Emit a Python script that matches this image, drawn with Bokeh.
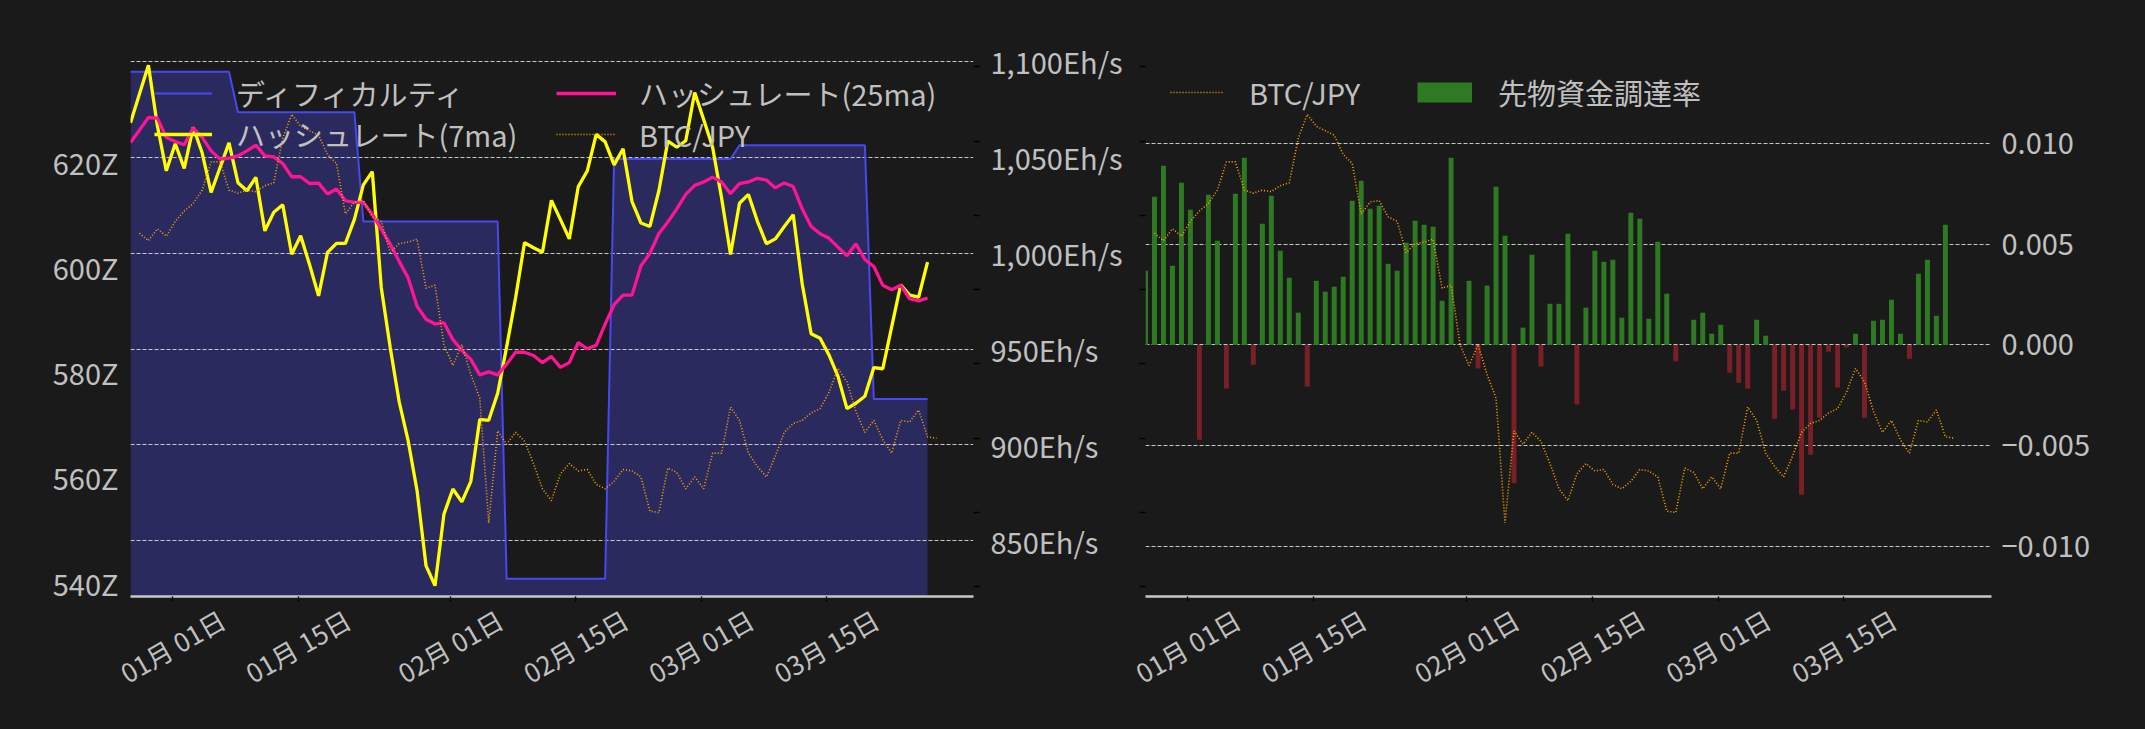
import math
from datetime import timedelta

import pandas as pd
from bokeh.embed import file_html
from bokeh.layouts import row
from bokeh.models import (CustomJSTickFormatter, FixedTicker, Legend, LegendItem,
                          LinearAxis, PrintfTickFormatter, Range1d)
from bokeh.plotting import figure
from bokeh.resources import INLINE

# ---- data (daily) ----
# hashrate, 7 day MA (Eh/s)
hash_7ma = [
    1067.9, 1082.9, 1098.0, 1066.4, 1042.9, 1057.0, 1044.2, 1065.6, 1052.3, 1031.6,
    1044.6, 1057.5, 1036.7, 1032.5, 1039.5, 1011.6, 1021.3, 1025.2, 999.4, 1009.0,
    993.9, 977.7, 1000.4, 1005.1, 1005.1, 1017.6, 1035.6, 1042.5, 982.1, 950.8,
    922.5, 902.2, 876.1, 837.0, 826.6, 863.9, 877.0, 870.3, 881.0, 913.3,
    912.8, 926.9, 951.1, 976.7, 1005.5, 1002.8, 1000.4, 1027.5, 1017.6, 1007.4,
    1034.7, 1042.8, 1061.9, 1058.0, 1046.0, 1054.4, 1026.9, 1015.7, 1013.9, 1032.5,
    1058.4, 1055.2, 1058.6, 1083.7, 1069.7, 1055.2, 1028.8, 999.3, 1026.0, 1030.6,
    1016.6, 1004.9, 1007.4, 1013.9, 1020.0, 984.0, 958.0, 955.6, 946.8, 935.7,
    918.9, 921.7, 925.4, 940.3, 939.7, 961.7, 983.5, 978.1, 977.0, 995.3,
]
# hashrate, 25 day MA (Eh/s)
hash_25ma = [
    1057.7, 1064.1, 1070.7, 1070.4, 1060.3, 1058.2, 1056.5, 1065.2, 1060.3, 1053.3,
    1049.0, 1049.5, 1050.7, 1053.3, 1056.3, 1050.7, 1050.2, 1046.7, 1039.8, 1039.8,
    1036.3, 1036.5, 1030.8, 1033.4, 1027.3, 1026.4, 1026.4, 1020.3, 1012.5, 1004.7,
    995.7, 987.1, 972.3, 965.5, 963.0, 963.7, 954.9, 949.3, 944.6, 936.5,
    938.1, 936.5, 942.1, 948.3, 948.3, 946.6, 942.9, 946.1, 940.4, 942.9,
    953.4, 950.1, 951.9, 963.0, 973.1, 978.1, 978.1, 993.4, 999.9, 1010.2,
    1016.2, 1023.1, 1030.6, 1035.3, 1037.1, 1039.6, 1037.1, 1031.0, 1036.2, 1037.1,
    1039.0, 1038.1, 1034.0, 1036.6, 1034.7, 1023.1, 1013.9, 1010.1, 1007.7, 1003.1,
    998.6, 1004.9, 996.7, 993.0, 983.2, 980.9, 983.2, 976.2, 975.1, 976.6,
]
# difficulty (Z)
difficulty = [
    637.2, 637.2, 637.2, 637.2, 637.2, 637.2, 637.2, 637.2, 637.2, 637.2, 637.2, 637.2,
    629.5, 629.5, 629.5, 629.5, 629.5, 629.5, 629.5, 629.5, 629.5, 629.5, 629.5, 629.5, 629.5, 629.5,
    608.7, 608.7, 608.7, 608.7, 608.7, 608.7, 608.7, 608.7, 608.7, 608.7, 608.7, 608.7, 608.7, 608.7, 608.7, 608.7,
    540.7, 540.7, 540.7, 540.7, 540.7, 540.7, 540.7, 540.7, 540.7, 540.7, 540.7, 540.7,
    620.6, 620.6, 620.6, 620.6, 620.6, 620.6, 620.6, 620.6, 620.6, 620.6, 620.6, 620.6, 620.6, 620.6,
    623.2, 623.2, 623.2, 623.2, 623.2, 623.2, 623.2, 623.2, 623.2, 623.2, 623.2, 623.2, 623.2, 623.2, 623.2,
    574.9, 574.9, 574.9, 574.9, 574.9, 574.9, 574.9,
]
# BTC/JPY (million JPY), starts one day later
btc_jpy = [
    13.38, 13.33, 13.41, 13.36, 13.46, 13.53, 13.58, 13.67, 13.86, 13.86,
    13.67, 13.65, 13.67, 13.66, 13.70, 13.72, 14.02, 14.18, 14.10, 14.07,
    14.04, 13.91, 13.85, 13.51, 13.59, 13.60, 13.49, 13.46, 13.25, 13.31,
    13.32, 13.34, 13.01, 13.03, 12.63, 12.49, 12.63, 12.43, 12.27, 11.43,
    12.05, 11.96, 12.04, 11.98, 11.83, 11.66, 11.58, 11.76, 11.83, 11.78,
    11.79, 11.69, 11.66, 11.71, 11.79, 11.78, 11.74, 11.51, 11.50, 11.80,
    11.77, 11.66, 11.74, 11.66, 11.90, 11.90, 12.21, 12.12, 11.90, 11.81,
    11.74, 11.88, 12.04, 12.10, 12.12, 12.17, 12.20, 12.31, 12.47, 12.38,
    12.18, 12.04, 12.12, 11.99, 11.90, 12.12, 12.11, 12.19, 12.01, 12.00,
]
# futures funding rate
funding = [
    0.00368, 0.00734, 0.00888, 0.00393, 0.00803, 0.00670, -0.00469, 0.00744, 0.00516, -0.00215,
    0.00749, 0.00927, -0.00098, 0.00600, 0.00739, 0.00467, 0.00333, 0.00160, -0.00206, 0.00318,
    0.00264, 0.00289, 0.00338, 0.00714, 0.00813, 0.00675, 0.00690, 0.00402, 0.00368, 0.00506,
    0.00615, 0.00596, 0.00586, 0.00219, 0.00927, 0.0, 0.00318, -0.00116, 0.00294, 0.00784,
    0.00541, -0.00685, 0.00086, 0.00447, -0.00106, 0.00204, 0.00204, 0.00551, -0.00294, 0.00185,
    0.00467, 0.00412, 0.00422, 0.00135, 0.00655, 0.00625, 0.00130, 0.00511, 0.00254, -0.00081,
    0.0, 0.00125, 0.00160, 0.00056, 0.00100, -0.00137, -0.00187, -0.00216, 0.00125, 0.00046,
    -0.00365, -0.00226, -0.00320, -0.00741, -0.00543, -0.00360, -0.00033, -0.00211, -0.00013, 0.00056,
    -0.00360, 0.00120, 0.00125, 0.00224, 0.00056, -0.00068, 0.00353, 0.00422, 0.00145, 0.00596,
]

dates = pd.date_range("2025-12-27 07:00", periods=91, freq="D")
x_main = dates[:90]
x_btc = dates[1:]
tick_dates = ["2026-01-01", "2026-01-15", "2026-02-01", "2026-02-15", "2026-03-01", "2026-03-15"]
tick_labels = ["01月 01日", "01月 15日", "02月 01日", "02月 15日", "03月 01日", "03月 15日"]
eh_ticks = [850, 900, 950, 1000, 1050, 1100]
diff_ticks = [540, 560, 580, 600, 620]
btc_ticks = [11.0, 11.5, 12.0, 12.5, 13.0, 13.5, 14.0, 14.5]
fr_ticks = [-0.01, -0.005, 0.0, 0.005, 0.01]

# ---- style ----
BG = "#1a1a1a"
TXT = "#c0c0c0"
FONT = "Noto Sans CJK JP"
FS = "29px"
GREEN = "#2e7a23"
RED = "#7a1f27"
BTC_COLOR = "#ffa500"
FRAME_H = 542
ITEM_H = 46
DAY_MS = 86400000

eh_lo, eh_hi = 820.96, 1103.55
diff_lo, diff_hi = 537.34, 640.48
btc_lo, btc_hi = 10.935, 14.583
fr_lo, fr_hi = -0.012455, 0.014386

x_start = dates[0].to_pydatetime()
x_end = x_start + timedelta(days=94.13)
tick_ms = [pd.Timestamp(d).value // 10**6 for d in tick_dates]
# Bokeh anchors rotated labels by their right end; move the anchor so that
# each label ends up centred under its tick (tick marks stay on the dates)
label_shift = 5.54 * DAY_MS


def style_xaxis(p):
    ax = p.xaxis[0]
    ax.ticker = FixedTicker(ticks=[t + label_shift for t in tick_ms], minor_ticks=tick_ms)
    ax.formatter = CustomJSTickFormatter(args=dict(labels=tick_labels),
                                         code="return labels[index];")
    ax.major_label_orientation = math.pi / 6
    ax.axis_line_color = "#c8c8c8"
    ax.axis_line_width = 2.5
    ax.major_tick_line_color = None
    ax.major_tick_out = 0
    ax.major_tick_in = 0
    ax.minor_tick_line_color = "black"
    ax.minor_tick_line_width = 1.5
    ax.minor_tick_out = 5
    ax.minor_tick_in = 0
    ax.major_label_text_font = FONT
    ax.major_label_text_font_size = "26px"
    ax.major_label_text_color = TXT
    ax.major_label_standoff = 15


def style_label_axis(ax, standoff):
    ax.axis_line_color = None
    ax.major_tick_line_color = None
    ax.major_tick_out = 0
    ax.major_tick_in = 0
    ax.minor_tick_line_color = None
    ax.major_label_text_font = FONT
    ax.major_label_text_font_size = FS
    ax.major_label_text_color = TXT
    ax.major_label_standoff = standoff


def add_legend(p, label, renderer, x, center, glyph_w, standoff):
    leg = Legend(items=[LegendItem(label=label, renderers=[renderer])],
                 location=(x, FRAME_H - center - ITEM_H / 2),
                 padding=0, margin=0, spacing=0,
                 glyph_width=glyph_w, glyph_height=ITEM_H, label_height=ITEM_H,
                 label_standoff=standoff, label_text_font=FONT, label_text_font_size=FS,
                 label_text_color=TXT, border_line_color=None, background_fill_alpha=0)
    p.add_layout(leg)


def make_fig(width, border_left, border_right, y_range):
    p = figure(width=width, height=725, x_axis_type="datetime",
               x_range=Range1d(x_start, x_end), y_range=y_range,
               y_axis_location="right", output_backend="svg", toolbar_location=None,
               background_fill_color=BG, border_fill_color=BG, outline_line_color=None,
               min_border_left=border_left, min_border_right=border_right,
               min_border_top=54, min_border_bottom=129)
    p.xgrid.visible = False
    p.ygrid.grid_line_color = "white"
    p.ygrid.grid_line_alpha = 0.75
    p.ygrid.grid_line_dash = "4 2"
    p.ygrid.grid_line_width = 1
    style_xaxis(p)
    return p


# ---- left: difficulty / hashrate ----
p1 = make_fig(1125, 130, 149, Range1d(eh_lo, eh_hi))
p1.extra_y_ranges = {"diff": Range1d(diff_lo, diff_hi), "btc": Range1d(btc_lo, btc_hi)}

eh_axis = p1.yaxis[0]
btc_on_eh = [eh_lo + (b - btc_lo) / (btc_hi - btc_lo) * (eh_hi - eh_lo) for b in btc_ticks]
eh_axis.ticker = FixedTicker(ticks=eh_ticks, minor_ticks=btc_on_eh)
eh_axis.formatter = CustomJSTickFormatter(code="return tick.toLocaleString('en-US') + 'Eh/s';")
style_label_axis(eh_axis, 11)
eh_axis.minor_tick_line_color = "black"
eh_axis.minor_tick_line_width = 1.5
eh_axis.minor_tick_out = 6
eh_axis.minor_tick_in = 0
p1.ygrid.ticker = FixedTicker(ticks=eh_ticks)

diff_axis = LinearAxis(y_range_name="diff", ticker=FixedTicker(ticks=diff_ticks),
                       formatter=PrintfTickFormatter(format="%dZ"))
style_label_axis(diff_axis, 12)
p1.add_layout(diff_axis, "left")

p1.varea(x=x_main, y1=difficulty, y2=diff_lo, y_range_name="diff",
         fill_color="#2a2a5e", level="image")
diff_line = p1.line(x_main, difficulty, y_range_name="diff", line_color="#4848f0", line_width=2)
l7 = p1.line(x_main, hash_7ma, line_color="#ffff00", line_width=3.3)
l25 = p1.line(x_main, hash_25ma, line_color="#ff1493", line_width=3.3)
btc1 = p1.line(x_btc, btc_jpy, y_range_name="btc", line_color=BTC_COLOR,
               line_width=1.6, line_dash="1 2")

add_legend(p1, "ディフィカルティ", diff_line, 24, 38.7, 58, 24)
add_legend(p1, "ハッシュレート(7ma)", l7, 24, 80, 58, 24)
add_legend(p1, "ハッシュレート(25ma)", l25, 426, 38.7, 60, 23)
add_legend(p1, "BTC/JPY", btc1, 426, 80, 60, 23)

# ---- right: funding rate ----
p2 = make_fig(1016, 20, 150, Range1d(fr_lo, fr_hi))
p2.extra_y_ranges = {"btc": Range1d(btc_lo, btc_hi)}

fr_axis = p2.yaxis[0]
fr_axis.ticker = FixedTicker(ticks=fr_ticks)
fr_axis.formatter = CustomJSTickFormatter(
    code="const s = Math.abs(tick).toFixed(3); return tick < -1e-12 ? '\u2212' + s : s;")
style_label_axis(fr_axis, 10)
p2.ygrid.ticker = FixedTicker(ticks=fr_ticks)

btc_axis = LinearAxis(y_range_name="btc", ticker=FixedTicker(ticks=btc_ticks))
btc_axis.axis_line_color = None
btc_axis.major_tick_line_color = "black"
btc_axis.major_tick_line_width = 1.5
btc_axis.major_tick_out = 6
btc_axis.major_tick_in = 0
btc_axis.minor_tick_line_color = None
btc_axis.major_label_text_color = None
btc_axis.major_label_text_font_size = "1px"
btc_axis.major_label_standoff = 0
p2.add_layout(btc_axis, "left")

bar_colors = [GREEN if v >= 0 else RED for v in funding]
p2.vbar(x=x_main, top=funding, bottom=0, width=0.55 * DAY_MS,
        fill_color=bar_colors, line_color=None)
btc2 = p2.line(x_btc, btc_jpy, y_range_name="btc", line_color=BTC_COLOR,
               line_width=1.6, line_dash="1 2")
# hidden thick line: only used as the legend key (a 20px green block)
fr_key = p2.line(x_main, funding, line_color=GREEN, line_width=20, line_cap="butt", visible=False)

add_legend(p2, "BTC/JPY", btc2, 25, 38.3, 53, 26)
add_legend(p2, "先物資金調達率", fr_key, 272, 38.3, 55, 26)

layout = row(p1, p2)
html = file_html(layout, INLINE, title="hashrate")
html = html.replace("<head>", "<head><style>html, body { background-color: #1a1a1a; }</style>", 1)
open("out.html", "w", encoding="utf-8").write(html)
